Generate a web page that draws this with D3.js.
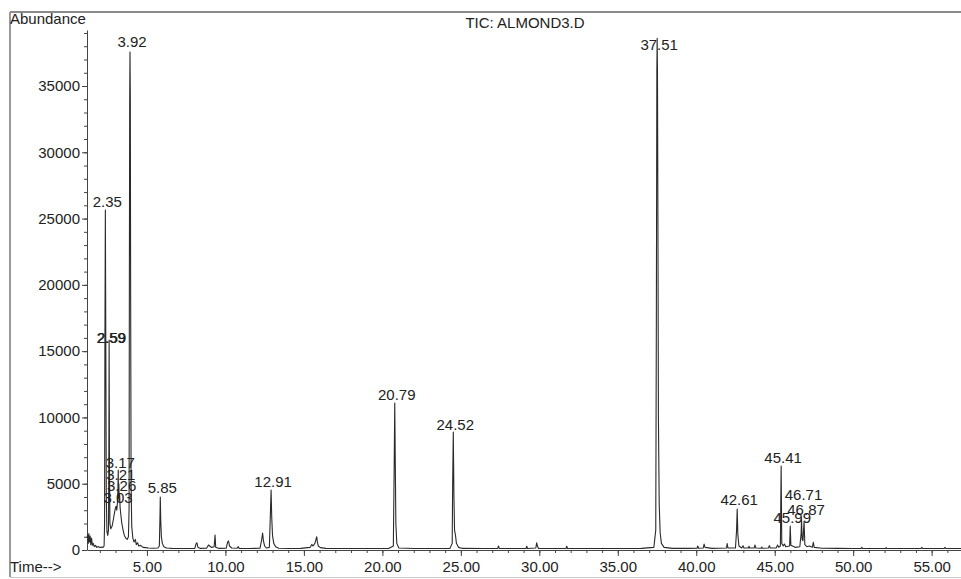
<!DOCTYPE html>
<html>
<head>
<meta charset="utf-8">
<script src="https://cdn.jsdelivr.net/npm/d3@7"></script>
<style>
    body { margin: 0; background: #fff; }
    svg text { font-family: "Liberation Sans", Arial, sans-serif; font-size: 15px; fill: #222; }
    .axis path, .axis line { stroke: #444; }
</style>
</head>
<body>
<div id="chart"></div>
<script>

/* chromatogram trace, [time (min), abundance] */
const trace = [
    [1.18, 900], [1.22, 1150], [1.26, 500], [1.30, 1250], [1.34, 600], [1.38, 1050], [1.42, 400],
    [1.47, 900], [1.52, 350], [1.58, 500], [1.64, 250], [1.72, 350], [1.80, 200], [1.90, 260],
    [2.00, 180], [2.10, 220], [2.20, 200], [2.27, 300],
    [2.30, 2000], [2.32, 15000], [2.35, 25650], [2.38, 15000], [2.41, 4000], [2.45, 1400],
    [2.50, 1100], [2.55, 1500], [2.57, 6000], [2.59, 15840], [2.61, 7000], [2.64, 2000],
    [2.70, 1600], [2.78, 1800], [2.86, 2300], [2.93, 2800], [2.98, 3100], [3.03, 3300],
    [3.08, 3000], [3.12, 3600], [3.15, 4500], [3.17, 6030], [3.19, 3900], [3.21, 5000],
    [3.23, 3700], [3.26, 4200], [3.29, 3200], [3.34, 2600], [3.40, 2000], [3.48, 1500],
    [3.56, 1100], [3.65, 900], [3.74, 800], [3.82, 1000], [3.86, 3000], [3.88, 20000],
    [3.90, 34000], [3.92, 37560], [3.94, 34000], [3.96, 20000], [3.99, 5000], [4.03, 1800],
    [4.10, 900], [4.18, 600], [4.26, 800], [4.32, 400], [4.40, 550], [4.48, 300], [4.60, 350],
    [4.75, 200], [4.90, 180], [5.10, 150], [5.40, 130], [5.70, 150],
    [5.79, 300], [5.83, 2500], [5.85, 4000], [5.88, 2200], [5.92, 1000], [5.98, 500],
    [6.08, 250], [6.25, 150], [6.60, 120], [7.00, 110], [7.50, 110], [8.05, 120], [8.12, 450],
    [8.18, 550], [8.25, 200], [8.40, 120], [8.80, 130], [8.92, 380], [9.00, 300], [9.10, 200],
    [9.28, 250], [9.34, 1130], [9.38, 200], [9.60, 120], [10.05, 130], [10.14, 600],
    [10.20, 680], [10.26, 300], [10.40, 150], [10.75, 130], [10.82, 260], [10.88, 120],
    [11.50, 110], [12.20, 130], [12.30, 700], [12.37, 1280], [12.42, 700], [12.50, 300],
    [12.60, 150], [12.80, 200], [12.86, 2500], [12.91, 4530], [12.95, 2500], [13.00, 1100],
    [13.08, 500], [13.20, 250], [13.40, 130], [14.00, 110], [14.80, 120], [15.40, 200],
    [15.50, 420], [15.58, 300], [15.70, 500], [15.82, 1000], [15.86, 600], [15.92, 300],
    [16.05, 180], [16.40, 120], [17.50, 110], [18.50, 110], [19.50, 110], [20.40, 110],
    [20.70, 300], [20.75, 6000], [20.79, 11090], [20.82, 7000], [20.86, 2000], [20.92, 500],
    [21.05, 150], [22.00, 110], [23.00, 110], [24.30, 120], [24.45, 500], [24.48, 5000],
    [24.52, 8900], [24.56, 4000], [24.60, 1500], [24.66, 1100], [24.72, 500], [24.85, 200],
    [25.10, 120], [26.50, 110], [27.35, 120], [27.40, 300], [27.45, 120], [29.15, 110],
    [29.20, 280], [29.25, 110], [29.78, 150], [29.83, 550], [29.88, 300], [29.95, 120],
    [31.70, 110], [31.75, 280], [31.80, 110], [33.50, 110], [35.00, 110], [36.50, 120],
    [37.30, 200], [37.42, 1500], [37.46, 18000], [37.49, 36000], [37.51, 38600],
    [37.53, 36000], [37.56, 24000], [37.59, 10000], [37.64, 3500], [37.70, 1300],
    [37.78, 500], [37.95, 200], [38.50, 120],
    [39.50, 120], [40.05, 130], [40.10, 300], [40.15, 130], [40.45, 150], [40.50, 450],
    [40.56, 200], [41.00, 120], [41.93, 150], [41.97, 480], [42.02, 150], [42.50, 150],
    [42.57, 1500], [42.61, 3090], [42.65, 1200], [42.72, 300], [42.90, 150], [42.98, 320],
    [43.04, 150], [43.32, 150], [43.36, 280], [43.40, 150], [43.70, 150], [43.74, 380],
    [43.80, 150], [44.14, 130], [44.17, 220], [44.22, 130], [44.60, 150], [44.66, 330],
    [44.72, 150], [45.10, 160], [45.18, 380], [45.25, 200], [45.36, 300], [45.41, 6340],
    [45.45, 500], [45.55, 300], [45.62, 450], [45.70, 250], [45.95, 300], [45.99, 1800],
    [46.03, 350], [46.30, 200], [46.60, 250], [46.68, 1200], [46.71, 2300], [46.75, 800],
    [46.80, 700], [46.87, 2150], [46.92, 400], [47.05, 250], [47.20, 300], [47.40, 200],
    [47.46, 580], [47.52, 200], [48.00, 130], [49.00, 120], [50.00, 110], [50.50, 120],
    [50.55, 200], [50.60, 110], [52.05, 110], [52.10, 180], [52.15, 110], [53.50, 110],
    [54.32, 110], [54.37, 200], [54.42, 110], [55.80, 110], [55.85, 200], [55.90, 110],
    [56.87, 110]
];

/* labelled peaks: retention time, label text, abundance level of the label baseline */
const peakTimes = [2.35, 2.59, 3.17, 3.21, 3.26, 3.03, 3.92, 5.85, 12.91, 20.79, 24.52,
    37.51, 42.61, 45.41, 45.99, 46.71, 46.87];
const peakLabels = peakTimes.map(t => t.toFixed(2));
const labelLevels = [25870, 15610, 6185, 5280, 4450, 3545, 37940, 4300, 4750, 11315, 9050,
    37720, 3390, 6560, 2040, 3770, 2640];

/* axis ticks */
const yMajorTicks = [0, 5000, 10000, 15000, 20000, 25000, 30000, 35000];
const yMinorTicks = d3.range(0, 39001, 1000);
const xMajorTicks = [5, 10, 15, 20, 25, 30, 35, 40, 45, 50, 55];
const xMinorTicks = d3.range(2, 57, 1);

const W = 961, H = 579;
const plot = { left: 87, right: 961, top: 30, bottom: 550 };

const svg = d3.select("#chart").append("svg")
    .attr("width", W).attr("height", H);

/* frame of the printout */
svg.append("line").attr("x1", 10).attr("x2", W).attr("y1", 12).attr("y2", 12)
    .attr("stroke", "#8a8a8a").attr("stroke-width", 2);
svg.append("line").attr("x1", 10).attr("x2", 10).attr("y1", 12).attr("y2", 577)
    .attr("stroke", "#9a9a9a").attr("stroke-width", 2);
svg.append("line").attr("x1", 10).attr("x2", W).attr("y1", 577.5).attr("y2", 577.5)
    .attr("stroke", "#c8c8c8").attr("stroke-width", 1);

/* scales */
const x = d3.scaleLinear().domain([1.18, 56.87]).range([plot.left, plot.right]);
const y = d3.scaleLinear().domain([0, 39225]).range([plot.bottom, plot.top]);

/* y axis */
svg.append("g").attr("class", "axis")
    .attr("transform", `translate(${plot.left},0)`)
    .call(d3.axisLeft(y).tickValues(yMinorTicks).tickSize(3).tickFormat(""))
    .call(g => g.select(".domain").remove());
svg.append("g").attr("class", "axis")
    .attr("transform", `translate(${plot.left},0)`)
    .call(d3.axisLeft(y).tickValues(yMajorTicks).tickSizeInner(5).tickSizeOuter(0)
        .tickPadding(2).tickFormat(d3.format("d")));

/* x axis */
svg.append("g").attr("class", "axis")
    .attr("transform", `translate(0,${plot.bottom})`)
    .call(d3.axisBottom(x).tickValues(xMinorTicks).tickSize(3).tickFormat(""))
    .call(g => g.select(".domain").remove());
svg.append("g").attr("class", "axis")
    .attr("transform", `translate(0,${plot.bottom})`)
    .call(d3.axisBottom(x).tickValues(xMajorTicks).tickSizeInner(6).tickSizeOuter(0)
        .tickPadding(5).tickFormat(d3.format(".2f")));

svg.selectAll(".axis").attr("font-family", null).attr("font-size", null);

/* trace */
const line = d3.line().x(d => x(d[0])).y(d => y(d[1]));
svg.append("path")
    .datum(trace)
    .attr("d", line)
    .attr("fill", "none")
    .attr("stroke", "#2a2a2a")
    .attr("stroke-width", 1.1)
    .attr("stroke-linejoin", "round");

/* peak labels */
svg.append("g").selectAll("text")
    .data(peakTimes)
    .join("text")
    .attr("x", d => x(d) + 2)
    .attr("y", (d, i) => y(labelLevels[i]))
    .attr("text-anchor", "middle")
    .text((d, i) => peakLabels[i]);

// 2.58 and 2.59 are printed on top of each other in the original
svg.append("text")
    .attr("x", x(2.59) + 2.7)
    .attr("y", y(labelLevels[1]))
    .attr("text-anchor", "middle")
    .text("2.59");

/* titles */
svg.append("text").attr("x", 10).attr("y", 24).text("Abundance");
svg.append("text").attr("x", 525).attr("y", 28).attr("text-anchor", "middle")
    .text("TIC: ALMOND3.D");
svg.append("text").attr("x", 10).attr("y", 572).text("Time-->");

</script>
</body>
</html>
